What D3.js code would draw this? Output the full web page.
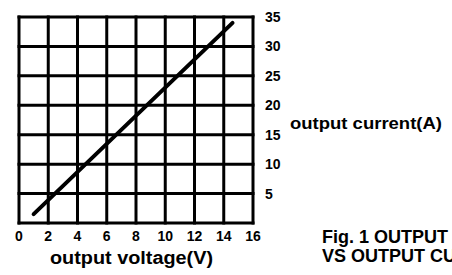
<html>
  <head>
    <meta charset="utf-8"/>
    <style>
      body { margin: 0; background: #fff; }
      text { font-family: "Liberation Sans", Arial, sans-serif; font-weight: bold; fill: #000; }
    </style>
  </head>
  <body>
    <svg></svg>
  </body>
  <script src="https://d3js.org/d3.v7.min.js"></script>
  <script>
  // data
  var voltage = [1.0, 14.6];
  var current = [1.5, 34.0];
  var xTicks = [0, 2, 4, 6, 8, 10, 12, 14, 16];
  var yTicks = [5, 10, 15, 20, 25, 30, 35];

  var W = 452, H = 275;
  var m = {left: 19, right: 253, top: 17, bottom: 223};

  var svg = d3.select("svg")
    .attr("width", W)
    .attr("height", H);

  var x = d3.scaleLinear().domain([0, 16]).range([m.left, m.right]);
  var y = d3.scaleLinear().domain([0, 35]).range([m.bottom, m.top]);

  var grid = svg.append("g")
    .attr("stroke", "#000")
    .attr("stroke-width", 3);

  grid.selectAll("line.v")
    .data(xTicks)
    .enter().append("line")
    .attr("class", "v")
    .attr("x1", function(d) { return x(d); })
    .attr("x2", function(d) { return x(d); })
    .attr("y1", y(0) + 1.5)
    .attr("y2", y(35) - 1.5);

  grid.selectAll("line.h")
    .data([0].concat(yTicks))
    .enter().append("line")
    .attr("class", "h")
    .attr("y1", function(d) { return y(d); })
    .attr("y2", function(d) { return y(d); })
    .attr("x1", x(0) - 1.5)
    .attr("x2", x(16) + 1.5);

  var line = d3.line()
    .x(function(d) { return x(d[0]); })
    .y(function(d) { return y(d[1]); });

  svg.append("path")
    .datum(d3.zip(voltage, current))
    .attr("d", line)
    .attr("fill", "none")
    .attr("stroke", "#000")
    .attr("stroke-width", 4)
    .attr("stroke-linecap", "round");

  // x axis labels
  svg.selectAll("text.xt")
    .data(xTicks)
    .enter().append("text")
    .attr("class", "xt")
    .attr("x", function(d) { return x(d); })
    .attr("y", 241)
    .attr("text-anchor", "middle")
    .attr("font-size", 14)
    .text(function(d) { return d; });

  // y axis labels on right
  svg.selectAll("text.yt")
    .data(yTicks)
    .enter().append("text")
    .attr("class", "yt")
    .attr("x", 265)
    .attr("y", function(d) { return y(d) + 5; })
    .attr("font-size", 14)
    .text(function(d) { return d; });

  svg.append("text")
    .attr("x", 50)
    .attr("y", 264)
    .attr("font-size", 18)
    .attr("textLength", 163)
    .attr("lengthAdjust", "spacingAndGlyphs")
    .text("output voltage(V)");

  svg.append("text")
    .attr("x", 290)
    .attr("y", 129)
    .attr("font-size", 17)
    .attr("textLength", 152)
    .attr("lengthAdjust", "spacingAndGlyphs")
    .text("output current(A)");

  svg.append("text")
    .attr("x", 322)
    .attr("y", 243)
    .attr("font-size", 18)
    .text("Fig. 1 OUTPUT VOLTAGE");

  svg.append("text")
    .attr("x", 322)
    .attr("y", 262)
    .attr("font-size", 18)
    .text("VS OUTPUT CURRENT");
  </script>
</html>
